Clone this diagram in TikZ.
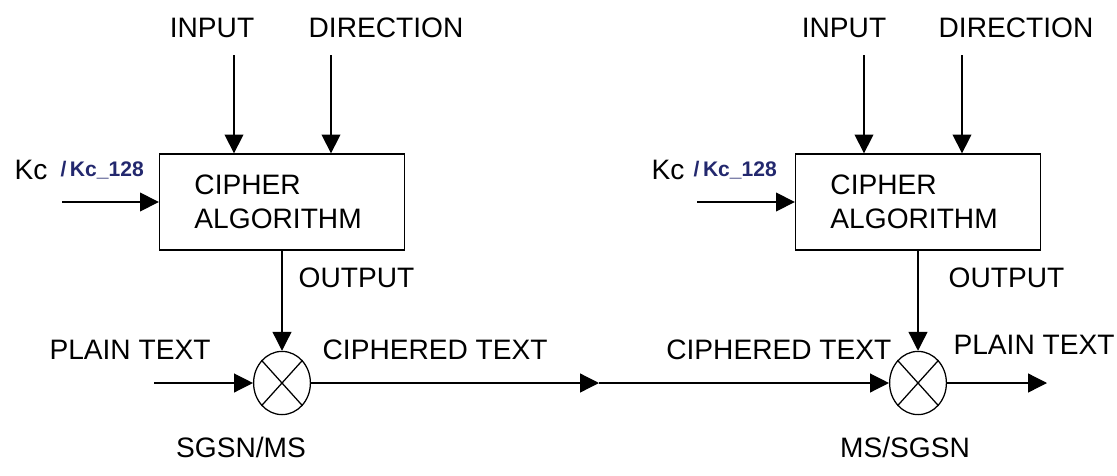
\documentclass[tikz,border=0pt]{standalone}
\usepackage{fontspec}
\setmainfont{Liberation Sans}
\usepackage{xcolor}
\usetikzlibrary{arrows.meta, positioning, shapes.geometric}
\definecolor{kcblu}{RGB}{35,40,110}

\begin{document}
\begin{tikzpicture}[x=0.025cm, y=-0.025cm, line width=0.9pt,
    etichetta/.style={font=\fontsize{20}{24}\selectfont, inner sep=0pt},
    chiave/.style={font=\fontsize{15}{18}\selectfont\bfseries, text=kcblu, inner sep=0pt},
    blocco/.style={draw, minimum width=6.125cm, minimum height=2.4cm,
        text width=4.375cm, inner xsep=0.875cm, align=left,
        font=\fontsize{20}{23.8}\selectfont},
    xor/.style={draw, ellipse, minimum width=1.42cm, minimum height=1.58cm, inner sep=0pt},
    freccia/.style={-{Triangle[length=0.47cm, width=0.47cm]}}]

    \useasboundingbox (0,0) rectangle (1117,475);

    % ==========================================
    % 1. CIFRATURA (A SINISTRA)
    % ==========================================

    % Blocco e ingressi
    \node[blocco] (cifL) at (282,202) {CIPHER\\ALGORITHM};
    \node[etichetta] (inL) at (212,28) {INPUT};
    \node[etichetta] (dirL) at (386,28) {DIRECTION};
    \coordinate (inLtop) at (234,55);
    \coordinate (dirLtop) at (331,55);
    \draw[freccia] (inLtop) -- (inLtop |- cifL.north);
    \draw[freccia] (dirLtop) -- (dirLtop |- cifL.north);

    % Chiave
    \node[etichetta] (kcL) at (31,170) {Kc};
    \node[chiave, anchor=west] (kc128L) at (60,170) {/\,Kc\_128};
    \coordinate (kcLstart) at (62,202);
    \draw[freccia] (kcLstart) -- (cifL.west);

    % Uscita e XOR
    \node[etichetta, anchor=west] (outL) at (298,278) {OUTPUT};
    \node[xor] (xorL) at (282,383) {};
    \draw (xorL.north east) -- (xorL.south west) (xorL.north west) -- (xorL.south east);
    \draw[freccia] (cifL.south) -- (xorL.north);

    \coordinate (ptLstart) at (154,383);
    \draw[freccia] (ptLstart) -- (xorL.west);
    \node[etichetta] (ptL) at (130,350) {PLAIN TEXT};
    \node[etichetta, anchor=west] (ctL) at (322,350) {CIPHERED TEXT};
    \node[etichetta] (sgsnms) at (241,447) {SGSN/MS};

    % ==========================================
    % 2. DECIFRATURA (A DESTRA)
    % ==========================================

    % Blocco e ingressi
    \node[blocco] (cifR) at (918,202) {CIPHER\\ALGORITHM};
    \node[etichetta] (inR) at (844,28) {INPUT};
    \node[etichetta] (dirR) at (1016,28) {DIRECTION};
    \coordinate (inRtop) at (864,55);
    \coordinate (dirRtop) at (962,55);
    \draw[freccia] (inRtop) -- (inRtop |- cifR.north);
    \draw[freccia] (dirRtop) -- (dirRtop |- cifR.north);

    % Chiave
    \node[etichetta] (kcR) at (668,170) {Kc};
    \node[chiave, anchor=west] (kc128R) at (693,170) {/\,Kc\_128};
    \coordinate (kcRstart) at (697,202);
    \draw[freccia] (kcRstart) -- (cifR.west);

    % Uscita e XOR
    \node[etichetta, anchor=west] (outR) at (948,278) {OUTPUT};
    \node[xor] (xorR) at (918,383) {};
    \draw (xorR.north east) -- (xorR.south west) (xorR.north west) -- (xorR.south east);
    \draw[freccia] (cifR.south) -- (xorR.north);

    \coordinate (ptRend) at (1047,383);
    \draw[freccia] (xorR.east) -- (ptRend);
    \node[etichetta, anchor=east] (ctR) at (892,350) {CIPHERED TEXT};
    \node[etichetta] (ptR) at (1034,345) {PLAIN TEXT};
    \node[etichetta] (mssgsn) at (905,447) {MS/SGSN};

    % ==========================================
    % 3. CANALE
    % ==========================================
    \coordinate (mezzo) at (599,383);
    \draw[freccia] (xorL.east) -- (mezzo);
    \draw[freccia] (mezzo) -- (xorR.west);

\end{tikzpicture}
\end{document}
